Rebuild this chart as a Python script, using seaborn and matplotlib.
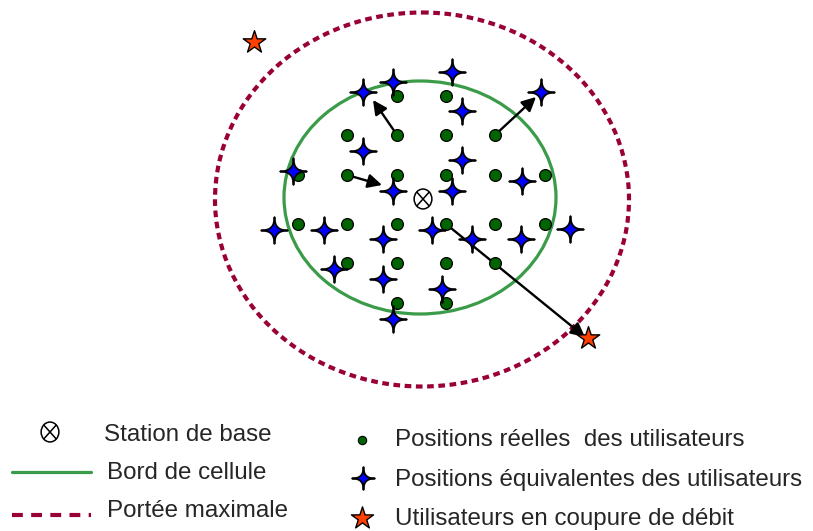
import matplotlib

matplotlib.use("Agg")

import matplotlib.pyplot as plt
import numpy as np
import seaborn as sns
from matplotlib.patches import Ellipse
from matplotlib.path import Path


# real user positions (green dots), picture coordinates
real_x = [397, 446,
          347, 397, 446, 495,
          298, 347, 397, 446, 495, 545,
          298, 347, 397, 446, 495, 545,
          347, 397, 446, 495,
          397, 446]
real_y = [96, 96,
          135, 135, 135, 135,
          175, 175, 175, 175, 175, 175,
          224, 224, 224, 224, 224, 224,
          263, 263, 263, 263,
          303, 303]

# equivalent positions (blue four-point stars)
equiv_x = [363, 393, 452, 462, 541, 363, 462, 293, 522, 393, 452,
           274, 324, 383, 432, 472, 521, 570, 334, 383, 442, 393]
equiv_y = [92, 82, 72, 111, 92, 151, 160, 171, 181, 191, 191,
           230, 230, 239, 230, 239, 239, 229, 269, 279, 289, 319]

# users in outage (orange stars)
outage_x = [254, 588]
outage_y = [42, 338]

# base station
bs_x = [423]
bs_y = [199]

# moves from real to equivalent position
arrow_start = [(397, 135), (495, 135), (347, 175), (446, 224)]
arrow_end = [(373, 100), (536, 97), (382, 185), (585, 337)]

# cell edge and max range
cell_center, cell_w, cell_h = (420, 197.5), 272, 233
range_center, range_w, range_h = (422, 199.5), 414, 374

legend_left = ["Station de base", "Bord de cellule", "Portée maximale"]
legend_right = ["Positions réelles  des utilisateurs",
                "Positions équivalentes des utilisateurs",
                "Utilisateurs en coupure de débit"]

GREEN = "#3A9B48"
MAROON = "#990038"
DOT_GREEN = "#006400"
ORANGE = "#FF4000"

sns.set_style("white")
plt.rcParams["font.family"] = ["Liberation Sans", "DejaVu Sans"]

# four-point star with concave arms
c = -0.02
tips = [(0, 1), (1, 0), (0, -1), (-1, 0)]
ctrl = [(c, c), (c, -c), (-c, -c), (-c, c)]
verts, codes = [tips[0]], [Path.MOVETO]
for i in range(4):
    verts += [ctrl[i], tips[(i + 1) % 4]]
    codes += [Path.CURVE3, Path.CURVE3]
verts.append(tips[0])
codes.append(Path.CLOSEPOLY)
star4 = Path(verts, codes)

circ = Path.unit_circle()
oval = Path(circ.vertices * np.array([1.0, 1.12]), circ.codes)
a, b = 0.707, 0.707 * 1.12
otimes = Path.make_compound_path(
    oval,
    Path([(-a, -b), (a, b)], [Path.MOVETO, Path.LINETO]),
    Path([(-a, b), (a, -b)], [Path.MOVETO, Path.LINETO]),
)

fig = plt.figure(figsize=(8.13, 5.31), dpi=100)
ax = fig.add_axes([0, 0, 1, 1])
ax.set_xlim(0, 813)
ax.set_ylim(531, 0)
ax.axis("off")

ax.add_patch(Ellipse(range_center, range_w, range_h, fill=False, edgecolor=MAROON,
                     lw=3.0, linestyle=(0, (1.6, 1.1)), zorder=1))
ax.add_patch(Ellipse(cell_center, cell_w, cell_h, fill=False, edgecolor=GREEN,
                     lw=2.3, zorder=2))

for (x0, y0), (x1, y1) in zip(arrow_start, arrow_end):
    ax.annotate("", xy=(x1, y1), xytext=(x0, y0),
                arrowprops=dict(arrowstyle="-|>", color="black", lw=1.7,
                                mutation_scale=21, shrinkA=0, shrinkB=0),
                zorder=3)

sns.scatterplot(x=real_x, y=real_y, ax=ax, color=DOT_GREEN, edgecolor="black",
                linewidth=0.9, s=72, zorder=4, legend=False)
sns.scatterplot(x=equiv_x, y=equiv_y, ax=ax, marker=star4, color="#0000FF",
                edgecolor="black", linewidth=1.3, s=370, zorder=5, legend=False)
sns.scatterplot(x=outage_x, y=outage_y, ax=ax, marker="*", color=ORANGE,
                edgecolor="black", linewidth=1.0, s=290, zorder=6, legend=False)
ax.scatter(bs_x, bs_y, marker=otimes, s=205, facecolors="none",
           edgecolors="black", linewidths=1.1, zorder=6)

# legend drawn by hand
fs = 17.4
ax.scatter([50], [432], marker=otimes, s=205, facecolors="none",
           edgecolors="black", linewidths=1.1)
ax.plot([12, 91], [472, 472], color=GREEN, lw=2.3)
ax.plot([12, 91], [515, 515], color=MAROON, lw=3.0, linestyle=(0, (2.6, 2.0)))
for label, xt, yt in zip(legend_left, [104, 107, 107], [441, 479, 517]):
    ax.text(xt, yt, label, fontsize=fs, va="baseline", ha="left")

ax.scatter([362], [440], color=DOT_GREEN, edgecolors="black", linewidths=0.8, s=36)
ax.scatter([363], [478], marker=star4, color="#0000FF", edgecolors="black",
           linewidths=1.3, s=270)
ax.scatter([362], [518], marker="*", color=ORANGE, edgecolors="black",
           linewidths=1.0, s=280)
for label, yt in zip(legend_right, [446, 486, 525]):
    ax.text(395, yt, label, fontsize=fs, va="baseline", ha="left")

fig.savefig("out.png", dpi=100)
